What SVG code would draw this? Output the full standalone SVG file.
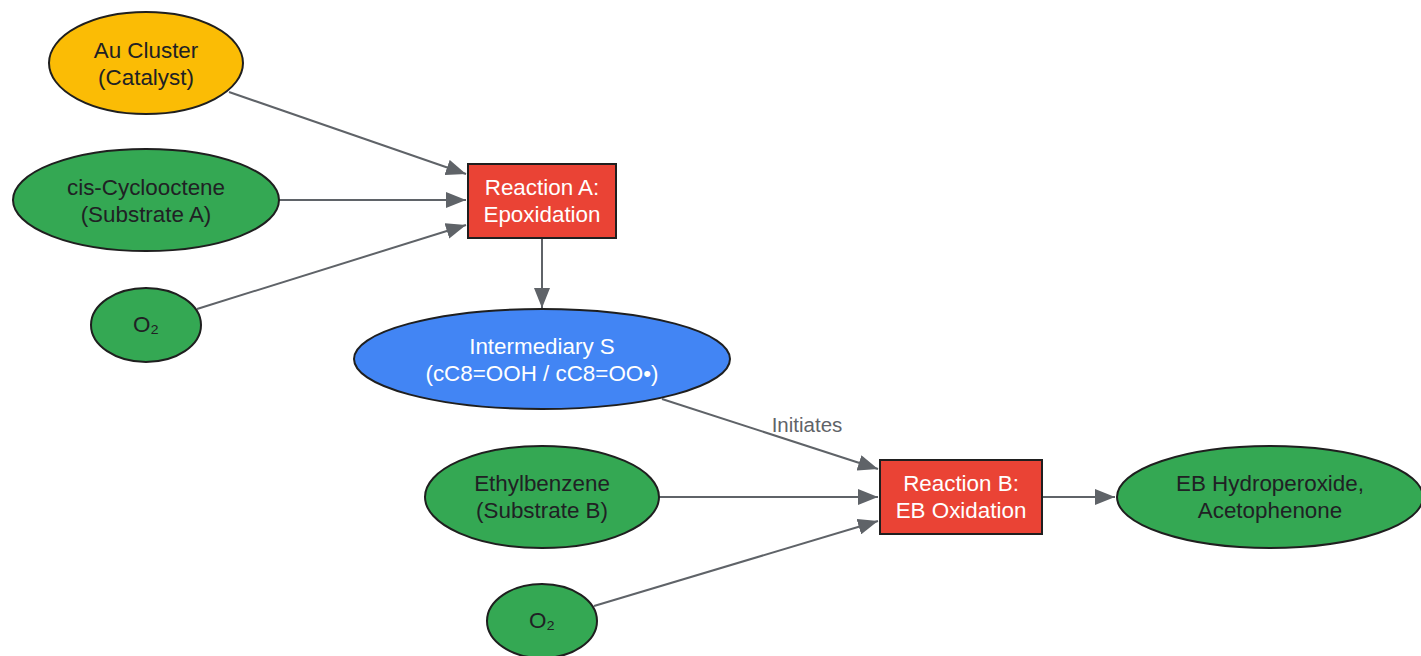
<svg xmlns="http://www.w3.org/2000/svg" width="1421" height="656" viewBox="0 0 1421 656">
<defs>
<marker id="arr" viewBox="0 0 20 16" refX="20" refY="8" markerWidth="20" markerHeight="16" markerUnits="userSpaceOnUse" orient="auto">
<path d="M0,0 L20,8 L0,16 Z" fill="#5f6368"/>
</marker>
<style>
.n{stroke:#1f1f1f;stroke-width:2}
.g{fill:#34A853}.y{fill:#FBBC05}.r{fill:#EA4335}.b{fill:#4285F4}
text{font-family:"Liberation Sans",Arial,sans-serif;font-size:22.4px;text-anchor:middle}
.dk{fill:#202124}.wt{fill:#ffffff}
.e{stroke:#5f6368;stroke-width:2;fill:none;marker-end:url(#arr)}
.lbl{fill:#5f6368;font-size:20.5px}
</style>
</defs>
<rect width="1421" height="656" fill="#ffffff"/>
<g id="connectors">
<line class="e" x1="229" y1="92" x2="466" y2="174"/>
<line class="e" x1="279" y1="200" x2="466" y2="200"/>
<line class="e" x1="197" y1="309" x2="466" y2="225"/>
<line class="e" x1="542" y1="238" x2="542" y2="308"/>
<line class="e" x1="662" y1="399" x2="878" y2="469"/>
<line class="e" x1="659" y1="497" x2="878" y2="497"/>
<line class="e" x1="594" y1="606" x2="878" y2="521"/>
<line class="e" x1="1042" y1="497" x2="1115" y2="497"/>
<text class="lbl" x="807" y="432">Initiates</text>
</g>
<g id="au">
<ellipse class="n y" cx="146" cy="63" rx="97" ry="51"/>
<text class="dk" x="146" y="58">Au Cluster</text>
<text class="dk" x="146" y="85">(Catalyst)</text>
</g>
<g id="cis">
<ellipse class="n g" cx="146" cy="200" rx="133" ry="51"/>
<text class="dk" x="146" y="195">cis-Cyclooctene</text>
<text class="dk" x="146" y="222">(Substrate A)</text>
</g>
<g id="o2a">
<ellipse class="n g" cx="146" cy="325" rx="55" ry="37"/>
<text class="dk" x="146" y="332">O₂</text>
</g>
<g id="reactA">
<rect class="n r" x="468" y="164" width="148" height="74"/>
<text class="wt" x="542" y="195">Reaction A:</text>
<text class="wt" x="542" y="222">Epoxidation</text>
</g>
<g id="interS">
<ellipse class="n b" cx="542" cy="359" rx="188" ry="50"/>
<text class="wt" x="542" y="354">Intermediary S</text>
<text class="wt" x="542" y="381">(cC8=OOH / cC8=OO•)</text>
</g>
<g id="eb">
<ellipse class="n g" cx="542" cy="497" rx="117" ry="51"/>
<text class="dk" x="542" y="491">Ethylbenzene</text>
<text class="dk" x="542" y="518">(Substrate B)</text>
</g>
<g id="o2b">
<ellipse class="n g" cx="542" cy="621" rx="55" ry="37"/>
<text class="dk" x="542" y="628">O₂</text>
</g>
<g id="reactB">
<rect class="n r" x="880" y="460" width="162" height="74"/>
<text class="wt" x="961" y="491">Reaction B:</text>
<text class="wt" x="961" y="518">EB Oxidation</text>
</g>
<g id="products">
<ellipse class="n g" cx="1270" cy="497" rx="153" ry="51"/>
<text class="dk" x="1270" y="491">EB Hydroperoxide,</text>
<text class="dk" x="1270" y="518">Acetophenone</text>
</g>
</svg>
